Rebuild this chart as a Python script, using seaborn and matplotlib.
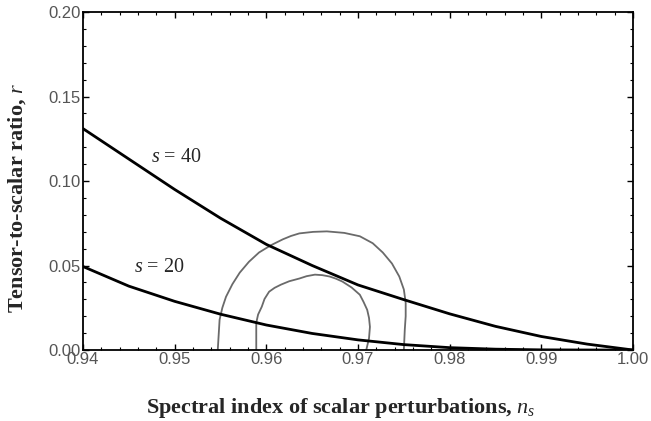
import numpy as np
import pandas as pd
import seaborn as sns
import matplotlib.pyplot as plt
from matplotlib.ticker import MultipleLocator, FormatStrFormatter

# theoretical curves r(n_s)
ns_grid = [0.940, 0.945, 0.950, 0.955, 0.960, 0.965, 0.970, 0.975, 0.980, 0.985, 0.990, 0.995, 1.000]
r_s40 = [0.131, 0.113, 0.095, 0.078, 0.0625, 0.050, 0.0385, 0.0298, 0.0214, 0.0140, 0.0080, 0.0035, 0.0]
r_s20 = [0.0494, 0.0378, 0.0288, 0.0212, 0.0148, 0.0098, 0.0060, 0.0032, 0.0014, 0.0005, 0.0001, 0.0, 0.0]

# observational contours (outer / inner), traced left to right
outer_ns = [0.9547, 0.9549, 0.9552, 0.9556, 0.9563, 0.9571, 0.9581, 0.9592, 0.9605,
            0.9618, 0.9627, 0.9636, 0.9651, 0.9666, 0.9685, 0.9702, 0.9716, 0.9727,
            0.9737, 0.9745, 0.9750, 0.9752, 0.9752, 0.9751, 0.9750]
outer_r = [0.0, 0.0179, 0.0250, 0.0315, 0.0390, 0.0458, 0.0522, 0.0577, 0.0620,
           0.0655, 0.0675, 0.0690, 0.0699, 0.0702, 0.0693, 0.0673, 0.0632, 0.0577,
           0.0512, 0.0435, 0.0358, 0.0280, 0.0200, 0.0119, 0.0]
inner_ns = [0.9589, 0.9589, 0.9591, 0.9595, 0.9598, 0.9603, 0.9609, 0.9616, 0.9625,
            0.9636, 0.9644, 0.9653, 0.9661, 0.9669, 0.9676, 0.9683, 0.9693, 0.9702,
            0.9706, 0.9710, 0.9712, 0.9713, 0.9712, 0.9709]
inner_r = [0.0, 0.0161, 0.0210, 0.0256, 0.0302, 0.0345, 0.0368, 0.0387, 0.0407,
           0.0423, 0.0437, 0.0446, 0.0443, 0.0435, 0.0422, 0.0405, 0.0370, 0.0327,
           0.0285, 0.0238, 0.0190, 0.0137, 0.0070, 0.0]

labels = ["s = 40", "s = 20"]

sns.set_style('ticks')
plt.rcParams['mathtext.fontset'] = 'custom'
plt.rcParams['mathtext.rm'] = 'Liberation Serif'
plt.rcParams['mathtext.it'] = 'Liberation Serif:italic'

fig, ax = plt.subplots(figsize=(6.51, 4.21), dpi=100)
fig.subplots_adjust(left=0.1275, right=0.9724, top=0.9715, bottom=0.1686)

contour_color = '#6a6a6a'
sns.lineplot(x=outer_ns, y=outer_r, sort=False, estimator=None, ax=ax,
             color=contour_color, lw=1.3)
sns.lineplot(x=inner_ns, y=inner_r, sort=False, estimator=None, ax=ax,
             color=contour_color, lw=1.3)

curves = pd.DataFrame({'ns': ns_grid * 2,
                       'r': r_s40 + r_s20,
                       'model': [labels[0]] * len(ns_grid) + [labels[1]] * len(ns_grid)})
sns.lineplot(data=curves, x='ns', y='r', units='model', estimator=None,
             ax=ax, color='black', lw=2.0, legend=False)

ax.set_xlim(0.94, 1.00)
ax.set_ylim(0.0, 0.20)
ax.xaxis.set_major_locator(MultipleLocator(0.01))
ax.xaxis.set_minor_locator(MultipleLocator(0.002))
ax.yaxis.set_major_locator(MultipleLocator(0.05))
ax.yaxis.set_minor_locator(MultipleLocator(0.01))
ax.xaxis.set_major_formatter(FormatStrFormatter('%.2f'))
ax.yaxis.set_major_formatter(FormatStrFormatter('%.2f'))

ax.tick_params(which='both', direction='in', top=True, right=True, color='black')
ax.tick_params(which='major', length=4, width=1.0, labelsize=12,
               labelcolor='#555555', pad=1.5)
ax.tick_params(which='minor', length=2.5, width=0.8)
for lab in ax.get_xticklabels() + ax.get_yticklabels():
    lab.set_family('Liberation Sans')
for sp in ax.spines.values():
    sp.set_linewidth(1.3)
    sp.set_color('black')

ax.text(0.9502, 0.114, r'$s$ = 40', fontsize=14.5, family='Liberation Serif',
        ha='center', va='center')
ax.text(0.9483, 0.0488, r'$s$ = 20', fontsize=14.5, family='Liberation Serif',
        ha='center', va='center')

ax.set_xlabel(r'Spectral index of scalar perturbations, $n_s$', fontsize=16,
              family='Liberation Serif', fontweight='bold')
ax.set_ylabel(r'Tensor-to-scalar ratio, $r$', fontsize=16,
              family='Liberation Serif', fontweight='bold')
ax.xaxis.set_label_coords(0.469, -0.135)
ax.yaxis.set_label_coords(-0.100, 0.45)

plt.savefig('out.png', dpi=100)
plt.close()
